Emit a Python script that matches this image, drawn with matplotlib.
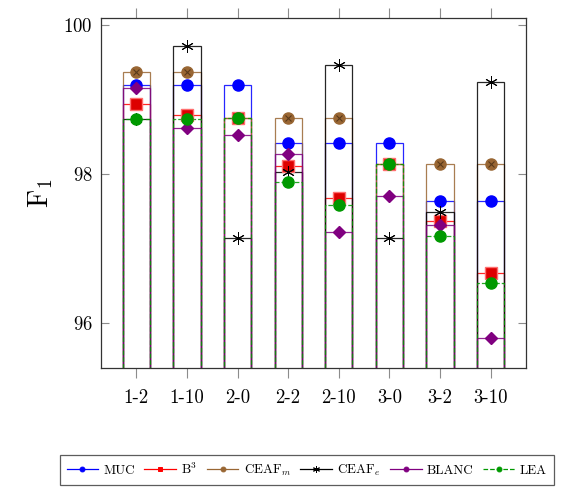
import numpy as np
import matplotlib
matplotlib.use("Agg")
import matplotlib.pyplot as plt
from matplotlib.lines import Line2D

plt.rcParams['font.family'] = 'serif'
plt.rcParams['font.serif'] = ['cmr10', 'DejaVu Serif']
plt.rcParams['mathtext.fontset'] = 'cm'
plt.rcParams['axes.formatter.use_mathtext'] = True

categories = ['1-2', '1-10', '2-0', '2-2', '2-10', '3-0', '3-2', '3-10']

muc    = [99.19, 99.19, 99.19, 98.41, 98.41, 98.41, 97.63, 97.63]
b3     = [98.94, 98.79, 98.75, 98.11, 97.68, 98.13, 97.37, 96.66]
ceaf_m = [99.37, 99.37, 98.75, 98.75, 98.75, 98.13, 98.13, 98.13]
ceaf_e = [98.73, 99.72, 97.14, 98.03, 99.46, 97.14, 97.48, 99.23]
blanc  = [99.15, 98.62, 98.52, 98.26, 97.22, 97.70, 97.31, 95.79]
lea    = [98.73, 98.73, 98.75, 97.89, 97.58, 98.13, 97.17, 96.53]

series = [
    ('MUC', muc, 'blue', '-', dict(marker='o', ms=8, mfc='blue', mec='blue')),
    ('B$^3$', b3, 'red', '-', dict(marker='s', ms=8, mfc='#dd0000', mec='#ff7070')),
    ('CEAF$_m$', ceaf_m, '#996633', '-', dict(marker='o', ms=8, mfc='#996633', mec='#996633')),
    ('CEAF$_e$', ceaf_e, 'black', '-', dict(marker=(6, 2, 0), ms=9, mec='black', mew=0.7)),
    ('BLANC', blanc, 'purple', '-', dict(marker='D', ms=6.5, mfc='purple', mec='purple')),
    ('LEA', lea, '#009900', '--', dict(marker='o', ms=8, mfc='#009900', mec='#009900')),
]

fig = plt.figure(figsize=(5.66, 4.90), dpi=100)
ax = fig.add_axes([0.1784, 0.249, 0.7509, 0.7143])

x = np.arange(len(categories))
bottom = 95.0
handles = []
for name, vals, color, ls, mk in series:
    vals = np.array(vals)
    ax.bar(x, vals - bottom, bottom=bottom, width=0.54, fill=False,
           edgecolor=color, linewidth=0.9, linestyle=ls, alpha=0.85)
    ax.plot(x, vals, linestyle='none', **mk)
    if name == 'CEAF$_m$':
        ax.plot(x, vals, linestyle='none', marker='x', ms=5, mec='#5a3a1a', mew=0.8)
    small = 'o' if mk['marker'] in ('o', 'D') else mk['marker']
    handles.append(Line2D([0], [0], color=color, linestyle=ls, linewidth=0.9,
                          marker=small, ms=3.5 if small != (6, 2, 0) else 5,
                          mfc=color, mec=color, mew=0.7))

ax.set_xlim(-0.7, 7.7)
ax.set_ylim(95.39, 100.094)
ax.set_xticks(x)
ax.set_xticklabels(categories, fontsize=13.5)
ax.set_yticks([96, 98, 100])
ax.tick_params(axis='y', direction='in', length=6, width=0.8, color='0.55',
               labelsize=13.5, right=True, pad=6)
ax.tick_params(axis='x', direction='out', length=7, width=0.8, color='0.55',
               top=True, pad=8)
ax.set_ylabel('F$_1$', fontsize=20, labelpad=6)
for s in ax.spines.values():
    s.set_linewidth(0.9)
    s.set_color('0.2')

leg = fig.legend(handles, [s[0] for s in series], loc='upper left',
                 bbox_to_anchor=(60 / 566, 1 - 455 / 490), ncol=6,
                 fontsize=9.5, frameon=True, fancybox=False, handlelength=2.4,
                 handletextpad=0.4, columnspacing=0.7, borderpad=0.5,
                 borderaxespad=0)
leg.get_frame().set_edgecolor('0.2')
leg.get_frame().set_linewidth(0.9)

fig.savefig('out.png', dpi=100)
